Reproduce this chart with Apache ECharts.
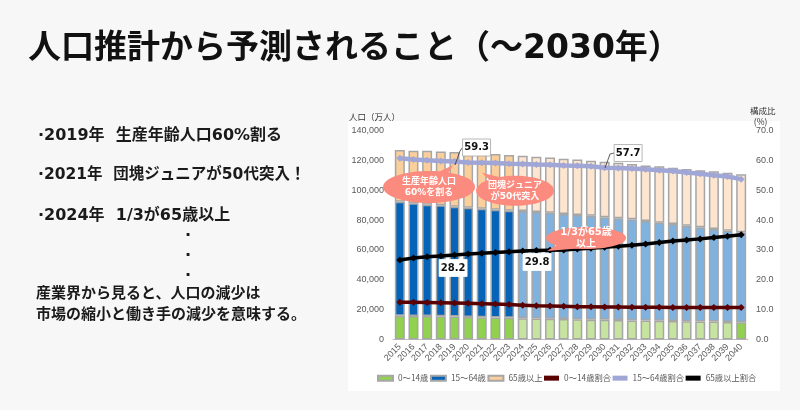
<!DOCTYPE html>
<html>
<head>
<meta charset="utf-8">
<title>人口推計から予測されること</title>
<style>
html, body { margin: 0; padding: 0; background: #f7f7f7; }
#chart { width: 800px; height: 410px; }
</style>
<script src="https://cdn.jsdelivr.net/npm/echarts@6/dist/echarts.min.js"></script>
</head>
<body>
<div id="chart"></div>
<script>
var years = ['2015','2016','2017','2018','2019','2020','2021','2022','2023','2024','2025','2026','2027','2028','2029','2030','2031','2032','2033','2034','2035','2036','2037','2038','2039','2040'];

// 人口（軸の値のまま）
var age0to14 = [15900,15800,15700,15600,15400,15100,14900,14700,14500,14300,14100,13900,13700,13500,13300,13200,13000,12800,12700,12500,12400,12200,12100,12000,11800,11500];
var age15to64 = [76440,75420,74630,74280,73590,73220,72750,72280,71810,71790,71320,71070,70380,69910,69660,68650,68180,67710,66690,65770,64980,64070,63050,62030,61120,60300];
var age65over = [34560,35230,36120,36120,36570,36780,37010,37220,37220,36990,36980,36980,36980,37190,36770,37210,37210,36990,37210,37720,37720,37930,38150,38620,38840,38850];

// 構成比（%）
var ratio0to14 = [12.5,12.5,12.4,12.3,12.2,12.1,12.0,11.9,11.7,11.5,11.3,11.2,11.1,11.0,11.0,10.9,10.9,10.8,10.8,10.8,10.7,10.7,10.7,10.7,10.7,10.7];
var ratio15to64 = [60.7,60.3,60.0,59.8,59.6,59.3,59.2,59.1,58.9,58.8,58.6,58.5,58.3,58.2,58.0,57.5,57.4,57.3,57.0,56.7,56.4,55.9,55.5,55.0,54.6,53.7];
var ratio65over = [26.6,27.3,27.7,28.0,28.3,28.6,28.9,29.1,29.4,29.6,29.8,29.9,30.0,30.3,30.6,30.9,31.2,31.6,32.0,32.5,33.0,33.3,33.7,34.2,34.6,35.1];

var leftTicks = ['0','20,000','40,000','60,000','80,000','100,000','120,000','140,000'];

var bubbleTexts = ['生産年齢人口\n60%を割る', '団塊ジュニア\nが50代突入', '1/3が65歳\n以上'];
var boxTexts = ['59.3', '57.7', '28.2', '29.8'];

var jp = '"Noto Sans CJK JP"';
var wide = '"DejaVu Sans", "Noto Sans CJK JP"';
var lastActual = 8; // 2023までは濃い色

function colored(values, dark, light, lastDark) {
    return values.map(function (v, i) {
        return { value: v, itemStyle: { color: (i <= lastActual || lastDark && i == values.length - 1) ? dark : light } };
    });
}

function barSeries(name, values, dark, light, lastDark) {
    return {
        name: name, type: 'bar', stack: 'pop', barWidth: 10,
        itemStyle: { color: dark, borderColor: '#a6a6a6', borderWidth: 1.5 },
        data: colored(values, dark, light, lastDark)
    };
}

function lineSeries(name, values, color, width) {
    return {
        name: name, type: 'line', yAxisIndex: 1, data: values, z: 5,
        symbol: 'diamond', symbolSize: 7, showSymbol: true,
        lineStyle: { color: color, width: width },
        itemStyle: { color: color }
    };
}

// 吹き出し: [中心x, 中心y, 先端x, 先端y, 横半径, 縦半径, 文字サイズ]
var bubbles = [
    [2.14, 102150, 3.9, 116900, 46, 16, 9],
    [8.44, 99680, 6.0, 111700, 39, 15, 9],
    [13.64, 68000, 10.78, 59300, 40, 11, 10]
];
// 数値ボックス: [中心x, 中心y, 引出線x, 引出線y, 枠あり]
var boxes = [
    [5.62, 128600, 4.04, 116900, 1],
    [16.72, 124900, 15.03, 114900, 1],
    [3.9, 47900, -1, 0, 0],
    [10.05, 51900, -1, 0, 0]
];

// カテゴリ軸は小数を丸めるので帯幅で補間する
function coordAt(api, x, y) {
    var base = Math.floor(x);
    var p = api.coord([base, y]);
    return [p[0] + (x - base) * api.size([1, 0])[0], p[1]];
}

function renderBubble(params, api) {
    var b = bubbles[params.dataIndex];
    var c = coordAt(api, b[0], b[1]);
    var tip = coordAt(api, b[2], b[3]);
    var dx = tip[0] - c[0], dy = tip[1] - c[1];
    var len = Math.sqrt(dx * dx + dy * dy);
    var nx = -dy / len * 10, ny = dx / len * 10;
    return {
        type: 'group',
        children: [
            { type: 'polygon', shape: { points: [[c[0] + nx, c[1] + ny], [c[0] - nx, c[1] - ny], tip] }, style: { fill: '#fc8b7f' } },
            { type: 'ellipse', shape: { cx: c[0], cy: c[1], rx: b[4], ry: b[5] }, style: { fill: '#fc8b7f' } },
            { type: 'text', style: { text: bubbleTexts[params.dataIndex], x: c[0], y: c[1], align: 'center', verticalAlign: 'middle', fill: '#ffffff', font: 'bold ' + b[6] + 'px ' + wide, lineHeight: b[6] + 2 } }
        ]
    };
}

function renderBox(params, api) {
    var b = boxes[params.dataIndex];
    var c = coordAt(api, b[0], b[1]);
    var framed = b[4] == 1;
    var children = [];
    if (framed) {
        var a = coordAt(api, b[2], b[3]);
        children.push({ type: 'polyline', shape: { points: [a, [a[0] + 5, a[1] - 14], [c[0] - 14, c[1]]] }, style: { fill: 'none', stroke: '#333333', lineWidth: 0.8 } });
    }
    children.push({ type: 'rect', shape: { x: c[0] - 14, y: c[1] - 8.5, width: 28, height: 17 }, style: { fill: '#ffffff', stroke: framed ? '#a6a6a6' : '#ffffff', lineWidth: 0.8 } });
    children.push({ type: 'text', style: { text: boxTexts[params.dataIndex], x: c[0], y: c[1], align: 'center', verticalAlign: 'middle', fill: '#111111', font: 'bold 10px "DejaVu Sans"' } });
    return { type: 'group', children: children };
}

function leftText(text, x, y, size) {
    return { type: 'text', left: x, top: y, style: { text: text, fill: '#1a1a1a', font: 'bold ' + size + 'px ' + wide } };
}

var chart = echarts.init(document.getElementById('chart'));
chart.setOption({
    backgroundColor: '#f7f7f7',
    animation: false,
    textStyle: { fontFamily: '"Liberation Sans", ' + jp },
    grid: { left: 393, right: 52, top: 130.5, bottom: 70.5 },
    legend: {
        top: 369, left: 372, width: 430, itemWidth: 15, itemHeight: 5, itemGap: 1.5,
        textStyle: { color: '#595959', fontSize: 8.3, fontFamily: jp },
        data: [
            { name: '0～14歳', icon: 'rect' }, { name: '15～64歳', icon: 'rect' }, { name: '65歳以上', icon: 'rect' },
            { name: '0～14歳割合', icon: 'rect' }, { name: '15～64歳割合', icon: 'rect' }, { name: '65歳以上割合', icon: 'rect' }
        ]
    },
    xAxis: {
        type: 'category', data: years,
        axisTick: { show: false },
        axisLine: { lineStyle: { color: '#bfbfbf' } },
        axisLabel: { rotate: 45, interval: 0, fontSize: 9, color: '#595959', margin: 6 }
    },
    yAxis: [
        {
            type: 'value', min: 0, max: 140000, interval: 20000,
            splitLine: { show: false }, axisLine: { show: false }, axisTick: { show: false },
            axisLabel: { fontSize: 9, color: '#595959', margin: 9, formatter: function (v) { return leftTicks[v / 20000]; } }
        },
        {
            type: 'value', min: 0, max: 70, interval: 10,
            splitLine: { show: false }, axisLine: { show: false }, axisTick: { show: false },
            axisLabel: { fontSize: 9, color: '#595959', margin: 8, formatter: function (v) { return v.toFixed(1); } }
        }
    ],
    graphic: [
        { type: 'rect', z: 0, shape: { x: 348, y: 121, width: 432, height: 270 }, style: { fill: '#ffffff' } },
        { type: 'text', left: 28, top: 33, style: { text: '人口推計から予測されること（～2030年）', fill: '#111111', font: 'bold 33px ' + wide } },
        leftText('·2019年  生産年齢人口60%割る', 38, 128, 16),
        leftText('·2021年  団塊ジュニアが50代突入！', 38, 167, 15.5),
        leftText('·2024年  1/3が65歳以上', 38, 208, 16),
        leftText('·', 185, 228, 16),
        leftText('·', 185, 248, 16),
        leftText('·', 185, 268, 16),
        leftText('産業界から見ると、人口の減少は', 36, 287, 15),
        leftText('市場の縮小と働き手の減少を意味する。', 36, 308, 15),
        { type: 'text', left: 349, top: 113, style: { text: '人口（万人）', fill: '#333333', font: '8.5px ' + jp } },
        { type: 'text', left: 750, top: 105, style: { text: '構成比\n  (%)', fill: '#333333', font: '8.5px ' + jp, lineHeight: 11 } }
    ],
    series: [
        barSeries('0～14歳', age0to14, '#92d050', '#c6e39f', true),
        barSeries('15～64歳', age15to64, '#0563b8', '#7fb2de', false),
        barSeries('65歳以上', age65over, '#fbcf9c', '#fde5cf', false),
        lineSeries('0～14歳割合', ratio0to14, '#5a0000', 3.5),
        lineSeries('15～64歳割合', ratio15to64, '#a0a6d6', 4.5),
        lineSeries('65歳以上割合', ratio65over, '#000000', 3.5),
        { type: 'custom', z: 8, clip: false, silent: true, renderItem: renderBubble, data: bubbles, encode: { x: 0, y: 1 } },
        { type: 'custom', z: 9, clip: false, silent: true, renderItem: renderBox, data: boxes, encode: { x: 0, y: 1 } }
    ]
});
</script>
</body>
</html>
